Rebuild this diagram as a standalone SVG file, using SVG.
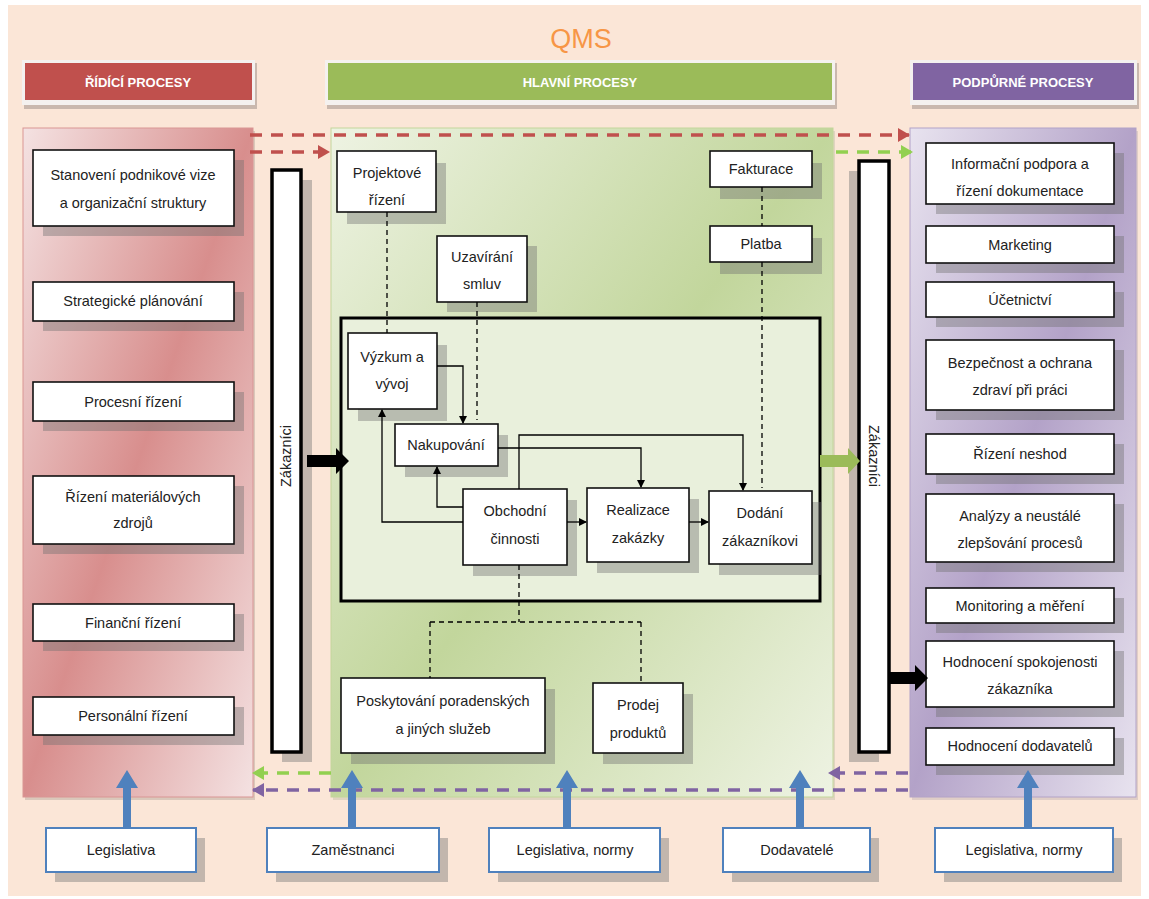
<svg xmlns="http://www.w3.org/2000/svg" width="1149" height="899" viewBox="0 0 1149 899">
  <defs>
    <style>
      text { font-family: "Liberation Sans", Arial, sans-serif; font-size: 14.5px; fill: #222; text-anchor: middle; }
      .hdr { font-weight: bold; fill: #fff; font-size: 13px; }
      .qms { fill: #F79646; font-size: 27px; }
      .node { fill: #fff; stroke: #111; stroke-width: 1.6; }
      .sh { fill: #6f6f6f; opacity: 0.4; }
      .bar { fill: #fff; stroke: #000; stroke-width: 3.5; }
      .inbox { fill: #fff; stroke: #4F81BD; stroke-width: 2; }
      .flow { fill: none; stroke: #000; stroke-width: 1.3; }
      .dash { fill: none; stroke: #000; stroke-width: 1.3; stroke-dasharray: 5 4; }
      .red { fill: none; stroke: #C0504D; stroke-width: 3.5; stroke-dasharray: 12 9; }
      .lime { fill: none; stroke: #92D050; stroke-width: 3.5; stroke-dasharray: 12 9; }
      .purple { fill: none; stroke: #8064A2; stroke-width: 3.5; stroke-dasharray: 12 9; }
      .blue { fill: #4F81BD; }
    </style>
    <linearGradient id="gRed" x1="0" y1="0" x2="1" y2="1">
      <stop offset="0" stop-color="#F4E2E2"/>
      <stop offset="0.5" stop-color="#D88E8D"/>
      <stop offset="1" stop-color="#F4E2E2"/>
    </linearGradient>
    <linearGradient id="gGreen" x1="0" y1="0" x2="1" y2="1">
      <stop offset="0" stop-color="#EEF3E3"/>
      <stop offset="0.5" stop-color="#C2D69C"/>
      <stop offset="1" stop-color="#EEF3E3"/>
    </linearGradient>
    <linearGradient id="gPurple" x1="0" y1="0" x2="1" y2="1">
      <stop offset="0" stop-color="#E8E3EF"/>
      <stop offset="0.5" stop-color="#B3A2C8"/>
      <stop offset="1" stop-color="#E8E3EF"/>
    </linearGradient>
    <marker id="ah" markerWidth="8" markerHeight="8" refX="7" refY="4" orient="auto" markerUnits="userSpaceOnUse">
      <path d="M0,0 L8,4 L0,8 Z" fill="#000"/>
    </marker>
    <marker id="ahRed" markerWidth="12" markerHeight="14" refX="11" refY="7" orient="auto" markerUnits="userSpaceOnUse">
      <path d="M0,0 L12,7 L0,14 Z" fill="#C0504D"/>
    </marker>
    <marker id="ahLime" markerWidth="12" markerHeight="14" refX="11" refY="7" orient="auto" markerUnits="userSpaceOnUse">
      <path d="M0,0 L12,7 L0,14 Z" fill="#92D050"/>
    </marker>
    <marker id="ahPurple" markerWidth="12" markerHeight="14" refX="11" refY="7" orient="auto" markerUnits="userSpaceOnUse">
      <path d="M0,0 L12,7 L0,14 Z" fill="#8064A2"/>
    </marker>
  </defs>

  <!-- page background -->
  <rect x="0" y="0" width="1149" height="899" fill="#fff"/>
  <rect x="8" y="5" width="1133" height="891" fill="#FBE6D7"/>

  <text class="qms" x="581" y="48">QMS</text>

  <!-- section headers -->
  <g id="hdr-ridici">
    <rect x="24" y="63" width="233" height="46" fill="#a89a92" opacity="0.6"/>
    <rect x="22" y="60" width="233" height="45" fill="#f4f1ef"/>
    <rect x="25" y="63" width="227" height="37" fill="#C0504D"/>
    <text class="hdr" x="138" y="87">ŘÍDÍCÍ PROCESY</text>
  </g>
  <g id="hdr-hlavni">
    <rect x="327" y="63" width="510" height="46" fill="#a89a92" opacity="0.6"/>
    <rect x="325" y="60" width="510" height="45" fill="#f4f1ef"/>
    <rect x="328" y="63" width="504" height="37" fill="#9BBB59"/>
    <text class="hdr" x="580" y="87">HLAVNÍ PROCESY</text>
  </g>
  <g id="hdr-podpurne">
    <rect x="912" y="63" width="227" height="46" fill="#a89a92" opacity="0.6"/>
    <rect x="910" y="60" width="227" height="45" fill="#f4f1ef"/>
    <rect x="913" y="63" width="221" height="37" fill="#8064A2"/>
    <text class="hdr" x="1023" y="87">PODPŮRNÉ PROCESY</text>
  </g>

  <!-- column panels -->
  <g id="panels">
    <rect x="25" y="131" width="230" height="669" fill="#b9a9a0" opacity="0.5"/>
    <rect x="23" y="128" width="230" height="669" fill="url(#gRed)" stroke="#D99594" stroke-width="1"/>
    <rect x="333" y="131" width="502" height="669" fill="#b9b9a0" opacity="0.4"/>
    <rect x="331" y="128" width="502" height="669" fill="url(#gGreen)" stroke="#C3D69B" stroke-width="1"/>
    <rect x="912" y="131" width="226" height="669" fill="#b9a9b0" opacity="0.4"/>
    <rect x="910" y="128" width="226" height="669" fill="url(#gPurple)" stroke="#B2A2C7" stroke-width="1"/>
  </g>

  <!-- customer bars -->
  <g id="zakaznici-left">
    <rect class="sh" x="282" y="180" width="30" height="582"/>
    <rect class="bar" x="272" y="170" width="29" height="582"/>
    <text transform="translate(291,456) rotate(-90)">Zákazníci</text>
  </g>
  <g id="zakaznici-right">
    <rect class="sh" x="849" y="171" width="30" height="591"/>
    <rect class="bar" x="859" y="161" width="30" height="591"/>
    <text transform="translate(869,456) rotate(90)">Zákazníci</text>
  </g>

  <!-- main process frame -->
  <rect id="main-frame" x="341" y="318" width="479" height="283" fill="#E9F0DC" stroke="#000" stroke-width="3"/>

  <!-- left column: management processes -->
  <g id="n-vize">
    <rect class="sh" x="43" y="160" width="201" height="76"/>
    <rect class="node" x="33" y="150" width="201" height="76"/>
    <text x="133" y="180">Stanovení podnikové vize</text>
    <text x="133" y="208">a organizační struktury</text>
  </g>
  <g id="n-strategie">
    <rect class="sh" x="43" y="292" width="201" height="39"/>
    <rect class="node" x="33" y="282" width="201" height="39"/>
    <text x="133" y="306">Strategické plánování</text>
  </g>
  <g id="n-procesni">
    <rect class="sh" x="43" y="392" width="201" height="39"/>
    <rect class="node" x="33" y="382" width="201" height="39"/>
    <text x="133" y="407">Procesní řízení</text>
  </g>
  <g id="n-materialy">
    <rect class="sh" x="43" y="486" width="201" height="68"/>
    <rect class="node" x="33" y="476" width="201" height="68"/>
    <text x="133" y="502">Řízení materiálových</text>
    <text x="133" y="528">zdrojů</text>
  </g>
  <g id="n-financni">
    <rect class="sh" x="43" y="614" width="201" height="37"/>
    <rect class="node" x="33" y="604" width="201" height="37"/>
    <text x="133" y="628">Finanční řízení</text>
  </g>
  <g id="n-personalni">
    <rect class="sh" x="43" y="707" width="201" height="38"/>
    <rect class="node" x="33" y="697" width="201" height="38"/>
    <text x="133" y="721">Personální řízení</text>
  </g>

  <!-- middle column: main processes -->
  <g id="n-projektove">
    <rect class="sh" x="347" y="163" width="99" height="61"/>
    <rect class="node" x="337" y="151" width="99" height="61"/>
    <text x="387" y="178">Projektové</text>
    <text x="387" y="205">řízení</text>
  </g>
  <g id="n-fakturace">
    <rect class="sh" x="720" y="163" width="102" height="36"/>
    <rect class="node" x="710" y="151" width="102" height="36"/>
    <text x="761" y="174">Fakturace</text>
  </g>
  <g id="n-platba">
    <rect class="sh" x="720" y="238" width="102" height="36"/>
    <rect class="node" x="710" y="226" width="102" height="36"/>
    <text x="761" y="249">Platba</text>
  </g>
  <g id="n-uzavirani">
    <rect class="sh" x="447" y="246" width="90" height="66"/>
    <rect class="node" x="437" y="236" width="90" height="66"/>
    <text x="482" y="262">Uzavírání</text>
    <text x="482" y="289">smluv</text>
  </g>
  <g id="n-vyzkum">
    <rect class="sh" x="358" y="345" width="89" height="76"/>
    <rect class="node" x="348" y="333" width="89" height="76"/>
    <text x="392" y="362">Výzkum a</text>
    <text x="392" y="389">vývoj</text>
  </g>
  <g id="n-nakupovani">
    <rect class="sh" x="405" y="435" width="103" height="42"/>
    <rect class="node" x="395" y="424" width="103" height="42"/>
    <text x="446" y="450">Nakupování</text>
  </g>
  <g id="n-obchodni">
    <rect class="sh" x="473" y="500" width="104" height="76"/>
    <rect class="node" x="463" y="489" width="104" height="76"/>
    <text x="515" y="516">Obchodní</text>
    <text x="515" y="544">činnosti</text>
  </g>
  <g id="n-realizace">
    <rect class="sh" x="597" y="499" width="102" height="74"/>
    <rect class="node" x="587" y="488" width="102" height="74"/>
    <text x="638" y="515">Realizace</text>
    <text x="638" y="543">zakázky</text>
  </g>
  <g id="n-dodani">
    <rect class="sh" x="719" y="502" width="103" height="73"/>
    <rect class="node" x="709" y="491" width="103" height="73"/>
    <text x="760" y="518">Dodání</text>
    <text x="760" y="546">zákazníkovi</text>
  </g>
  <g id="n-poskytovani">
    <rect class="sh" x="351" y="689" width="204" height="75"/>
    <rect class="node" x="341" y="678" width="204" height="75"/>
    <text x="443" y="706">Poskytování poradenských</text>
    <text x="443" y="734">a jiných služeb</text>
  </g>
  <g id="n-prodej">
    <rect class="sh" x="603" y="694" width="90" height="70"/>
    <rect class="node" x="593" y="683" width="90" height="70"/>
    <text x="638" y="710">Prodej</text>
    <text x="638" y="738">produktů</text>
  </g>

  <!-- right column: support processes -->
  <g id="n-informacni">
    <rect class="sh" x="936" y="153" width="188" height="61"/>
    <rect class="node" x="926" y="143" width="188" height="61"/>
    <text x="1020" y="169">Informační podpora a</text>
    <text x="1020" y="196">řízení dokumentace</text>
  </g>
  <g id="n-marketing">
    <rect class="sh" x="936" y="236" width="188" height="37"/>
    <rect class="node" x="926" y="226" width="188" height="37"/>
    <text x="1020" y="250">Marketing</text>
  </g>
  <g id="n-ucetnictvi">
    <rect class="sh" x="936" y="292" width="188" height="35"/>
    <rect class="node" x="926" y="282" width="188" height="35"/>
    <text x="1020" y="305">Účetnictví</text>
  </g>
  <g id="n-bezpecnost">
    <rect class="sh" x="936" y="350" width="188" height="70"/>
    <rect class="node" x="926" y="340" width="188" height="70"/>
    <text x="1020" y="368">Bezpečnost a ochrana</text>
    <text x="1020" y="395">zdraví při práci</text>
  </g>
  <g id="n-neshody">
    <rect class="sh" x="936" y="444" width="188" height="40"/>
    <rect class="node" x="926" y="434" width="188" height="40"/>
    <text x="1020" y="459">Řízení neshod</text>
  </g>
  <g id="n-analyzy">
    <rect class="sh" x="936" y="504" width="188" height="68"/>
    <rect class="node" x="926" y="494" width="188" height="68"/>
    <text x="1020" y="521">Analýzy a neustálé</text>
    <text x="1020" y="548">zlepšování procesů</text>
  </g>
  <g id="n-monitoring">
    <rect class="sh" x="936" y="598" width="188" height="35"/>
    <rect class="node" x="926" y="588" width="188" height="35"/>
    <text x="1020" y="611">Monitoring a měření</text>
  </g>
  <g id="n-spokojenost">
    <rect class="sh" x="936" y="651" width="188" height="66"/>
    <rect class="node" x="926" y="641" width="188" height="66"/>
    <text x="1020" y="667">Hodnocení spokojenosti</text>
    <text x="1020" y="694">zákazníka</text>
  </g>
  <g id="n-dodavatele">
    <rect class="sh" x="936" y="738" width="188" height="37"/>
    <rect class="node" x="926" y="728" width="188" height="37"/>
    <text x="1020" y="751">Hodnocení dodavatelů</text>
  </g>

  <!-- external inputs -->
  <g id="in-legislativa-1">
    <rect class="sh" x="55" y="838" width="150" height="44"/>
    <rect class="inbox" x="46" y="828" width="150" height="44"/>
    <text x="121" y="855">Legislativa</text>
  </g>
  <g id="in-zamestnanci">
    <rect class="sh" x="276" y="838" width="172" height="44"/>
    <rect class="inbox" x="267" y="828" width="172" height="44"/>
    <text x="353" y="855">Zaměstnanci</text>
  </g>
  <g id="in-legislativa-2">
    <rect class="sh" x="498" y="838" width="171" height="44"/>
    <rect class="inbox" x="489" y="828" width="171" height="44"/>
    <text x="575" y="855">Legislativa, normy</text>
  </g>
  <g id="in-dodavatele">
    <rect class="sh" x="732" y="838" width="147" height="44"/>
    <rect class="inbox" x="723" y="828" width="147" height="44"/>
    <text x="797" y="855">Dodavatelé</text>
  </g>
  <g id="in-legislativa-3">
    <rect class="sh" x="944" y="838" width="178" height="44"/>
    <rect class="inbox" x="935" y="828" width="178" height="44"/>
    <text x="1024" y="855">Legislativa, normy</text>
  </g>

  <!-- connectors -->
  <g id="connectors">
    <!-- dashed information links -->
    <path class="dash" d="M387,212 V333"/>
    <path class="dash" d="M477,302 V420"/>
    <path class="dash" d="M762,187 V226"/>
    <path class="dash" d="M762,262 V488"/>
    <path class="dash" d="M519,565 V622 M430,622 H641 M430,622 V678 M641,622 V683"/>

    <!-- process flow -->
    <path class="flow" d="M437,366 H463 V423" marker-end="url(#ah)"/>
    <path class="flow" d="M463,507 H437 V467" marker-end="url(#ah)"/>
    <path class="flow" d="M463,522 H382 V410" marker-end="url(#ah)"/>
    <path class="flow" d="M519,489 V435 H743 V490" marker-end="url(#ah)"/>
    <path class="flow" d="M498,448 H641 V487" marker-end="url(#ah)"/>
    <path class="flow" d="M567,522 H586" marker-end="url(#ah)"/>
    <path class="flow" d="M689,522 H708" marker-end="url(#ah)"/>

    <!-- thick customer arrows -->
    <path d="M307,455 H336 V448 L349,461 L336,474 V467 H307 Z" fill="#000"/>
    <path d="M820,455 H848 V448 L860,461 L848,474 V467 H820 Z" fill="#9BBB59"/>
    <path d="M889,672 H915 V665 L928,678 L915,691 V684 H889 Z" fill="#000"/>

    <!-- dashed column links -->
    <path class="red" d="M250,135 H909" marker-end="url(#ahRed)"/>
    <path class="red" d="M250,152 H329" marker-end="url(#ahRed)"/>
    <path class="lime" d="M836,152 H912" marker-end="url(#ahLime)"/>
    <path class="lime" d="M331,773 H253" marker-end="url(#ahLime)"/>
    <path class="purple" d="M908,773 H829" marker-end="url(#ahPurple)"/>
    <path class="purple" d="M908,790 H253" marker-end="url(#ahPurple)"/>

    <!-- input arrows -->
    <path class="blue" d="M123,828 V788 H116 L127,770 L138,788 H131 V828 Z"/>
    <path class="blue" d="M348,828 V788 H341 L352,770 L363,788 H356 V828 Z"/>
    <path class="blue" d="M563,828 V788 H556 L567,770 L578,788 H571 V828 Z"/>
    <path class="blue" d="M796,828 V788 H789 L800,770 L811,788 H804 V828 Z"/>
    <path class="blue" d="M1024,828 V788 H1017 L1028,770 L1039,788 H1032 V828 Z"/>
  </g>
</svg>
